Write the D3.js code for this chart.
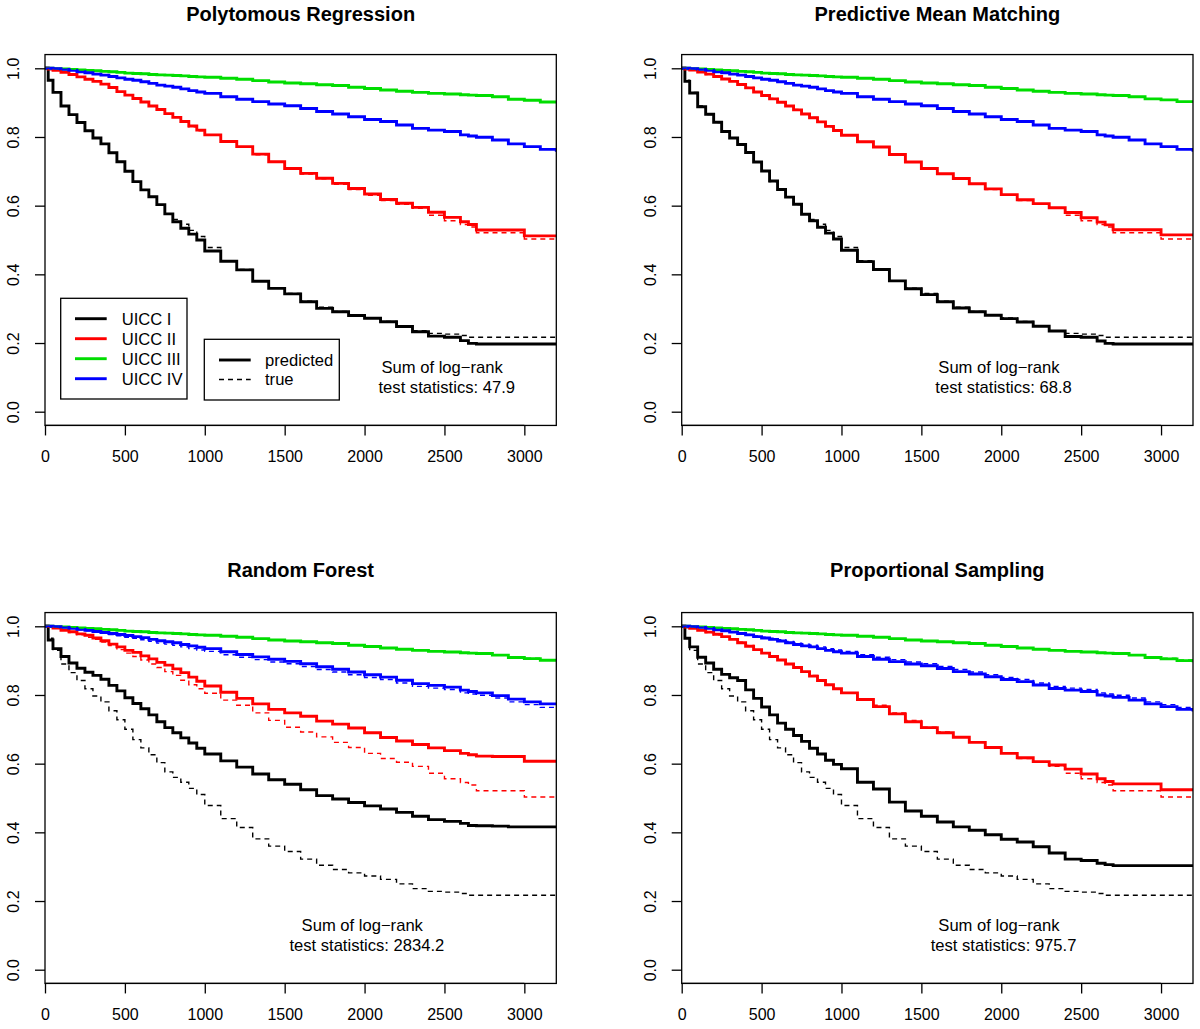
<!DOCTYPE html>
<html><head><meta charset="utf-8">
<script src="https://cdn.jsdelivr.net/npm/d3@7"></script>
<style>
body{margin:0;background:#fff}
svg{display:block}
text{font-family:"Liberation Sans",Arial,Helvetica,sans-serif;fill:#000}
</style></head>
<body><svg id="chart" width="1200" height="1029"></svg>
<script>
// ---- data ----
const days = [0,20,50,100,150,200,250,300,350,400,450,500,550,600,650,700,750,800,850,900,950,1000,1100,1200,1300,1400,1500,1600,1700,1800,1900,2000,2100,2200,2300,2400,2500,2600,2650,2700,2800,2900,3000,3100,3200];

const stages = ["UICC I","UICC II","UICC III","UICC IV"];
const stageColors = ["#000000","#ff0000","#00dd00","#0000ff"];
const panelTitles = ["Polytomous Regression","Predictive Mean Matching","Random Forest","Proportional Sampling"];
const statValues = ["47.9","68.8","2834.2","975.7"];
const statDay = [2500,2000,2000,2000];
const xTicks = [0,500,1000,1500,2000,2500,3000];
const yTicks = [0,0.2,0.4,0.6,0.8,1.0];

// true (observed) survival per stage, dashed in every panel
const trueI   = [1.000,0.965,0.930,0.890,0.865,0.842,0.818,0.797,0.780,0.754,0.728,0.700,0.670,0.646,0.626,0.603,0.576,0.560,0.546,0.528,0.510,0.478,0.440,0.414,0.381,0.360,0.344,0.322,0.304,0.292,0.282,0.273,0.263,0.250,0.236,0.228,0.226,0.222,0.217,0.217,0.217,0.217,0.217,0.217,0.217];
const trueII  = [1.000,0.998,0.994,0.988,0.982,0.975,0.968,0.962,0.954,0.944,0.932,0.922,0.912,0.902,0.890,0.880,0.868,0.857,0.843,0.830,0.818,0.805,0.785,0.770,0.748,0.726,0.706,0.692,0.678,0.662,0.647,0.630,0.615,0.604,0.592,0.572,0.556,0.545,0.538,0.521,0.521,0.521,0.503,0.503,0.503];
const trueIII = [1.000,1.000,0.999,0.998,0.997,0.995,0.994,0.993,0.991,0.990,0.988,0.986,0.985,0.984,0.982,0.981,0.980,0.979,0.978,0.976,0.975,0.974,0.971,0.968,0.964,0.960,0.957,0.955,0.952,0.950,0.945,0.941,0.937,0.933,0.930,0.927,0.925,0.923,0.922,0.921,0.917,0.910,0.907,0.902,0.898];
const trueIV  = [1.000,1.000,0.999,0.997,0.994,0.990,0.987,0.983,0.980,0.976,0.972,0.968,0.965,0.961,0.956,0.951,0.948,0.945,0.940,0.935,0.931,0.927,0.917,0.910,0.903,0.896,0.891,0.883,0.874,0.867,0.859,0.851,0.845,0.835,0.825,0.820,0.816,0.806,0.803,0.799,0.791,0.780,0.772,0.764,0.760];

// predicted survival: Polytomous Regression
const polyI   = [1.000,0.965,0.930,0.890,0.865,0.842,0.818,0.797,0.780,0.754,0.728,0.700,0.670,0.646,0.626,0.603,0.576,0.553,0.534,0.517,0.500,0.468,0.438,0.413,0.380,0.359,0.343,0.320,0.301,0.291,0.280,0.272,0.262,0.248,0.233,0.220,0.217,0.207,0.199,0.197,0.197,0.197,0.197,0.197,0.197];
const polyII  = [1.000,0.998,0.994,0.988,0.982,0.975,0.968,0.962,0.954,0.944,0.932,0.922,0.912,0.902,0.890,0.880,0.868,0.857,0.845,0.832,0.820,0.806,0.787,0.772,0.750,0.728,0.708,0.694,0.680,0.665,0.650,0.634,0.618,0.607,0.595,0.581,0.566,0.553,0.545,0.529,0.529,0.529,0.512,0.512,0.512];
const polyIII = [1.000,1.000,0.999,0.998,0.997,0.995,0.994,0.993,0.991,0.990,0.988,0.986,0.985,0.984,0.982,0.981,0.980,0.979,0.978,0.976,0.975,0.974,0.971,0.968,0.964,0.960,0.957,0.955,0.952,0.950,0.945,0.941,0.937,0.933,0.930,0.927,0.925,0.923,0.922,0.921,0.917,0.910,0.907,0.902,0.898];
const polyIV  = [1.000,1.000,0.999,0.997,0.994,0.990,0.987,0.983,0.980,0.976,0.972,0.968,0.965,0.961,0.956,0.951,0.948,0.945,0.940,0.935,0.931,0.927,0.917,0.910,0.903,0.896,0.891,0.883,0.874,0.867,0.859,0.851,0.845,0.835,0.825,0.820,0.816,0.806,0.803,0.799,0.791,0.780,0.772,0.764,0.757];

// predicted survival: Predictive Mean Matching
const pmmI   = [1.000,0.962,0.928,0.888,0.866,0.843,0.816,0.797,0.778,0.755,0.727,0.701,0.672,0.647,0.625,0.604,0.575,0.556,0.537,0.520,0.503,0.470,0.437,0.414,0.381,0.358,0.341,0.320,0.302,0.291,0.281,0.271,0.261,0.249,0.235,0.219,0.217,0.206,0.199,0.197,0.197,0.197,0.197,0.197,0.197];
const pmmII  = [1.000,0.998,0.995,0.989,0.983,0.976,0.969,0.962,0.953,0.943,0.931,0.921,0.911,0.901,0.890,0.879,0.867,0.856,0.844,0.831,0.819,0.805,0.786,0.771,0.749,0.727,0.708,0.693,0.679,0.664,0.649,0.632,0.617,0.606,0.594,0.580,0.565,0.552,0.544,0.530,0.530,0.530,0.515,0.515,0.515];
const pmmIII = [1.000,1.000,0.999,0.998,0.997,0.995,0.994,0.993,0.991,0.990,0.988,0.986,0.985,0.984,0.982,0.981,0.980,0.979,0.978,0.976,0.975,0.974,0.971,0.968,0.964,0.960,0.957,0.955,0.952,0.950,0.945,0.941,0.937,0.933,0.930,0.927,0.925,0.923,0.922,0.921,0.917,0.911,0.908,0.903,0.899];
const pmmIV  = [1.000,1.000,0.999,0.997,0.994,0.990,0.987,0.983,0.980,0.976,0.972,0.968,0.965,0.961,0.956,0.951,0.948,0.945,0.940,0.935,0.931,0.927,0.917,0.910,0.903,0.896,0.891,0.883,0.874,0.867,0.859,0.851,0.845,0.835,0.825,0.820,0.816,0.806,0.803,0.799,0.791,0.780,0.772,0.764,0.757];

// predicted survival: Random Forest
const rfI   = [1.000,0.960,0.935,0.912,0.893,0.878,0.866,0.857,0.846,0.828,0.812,0.792,0.775,0.760,0.742,0.722,0.705,0.690,0.675,0.660,0.645,0.628,0.608,0.590,0.570,0.553,0.540,0.524,0.507,0.497,0.487,0.477,0.468,0.458,0.447,0.437,0.432,0.426,0.420,0.419,0.418,0.416,0.416,0.416,0.416];
const rfII  = [1.000,0.999,0.995,0.988,0.984,0.978,0.974,0.966,0.958,0.948,0.940,0.930,0.924,0.914,0.905,0.895,0.887,0.876,0.865,0.852,0.840,0.826,0.808,0.790,0.774,0.758,0.748,0.738,0.724,0.715,0.704,0.690,0.676,0.666,0.656,0.646,0.638,0.630,0.626,0.622,0.621,0.621,0.607,0.607,0.607];
const rfIII = [1.000,1.000,0.999,0.998,0.997,0.995,0.994,0.993,0.991,0.990,0.988,0.986,0.985,0.984,0.982,0.981,0.980,0.979,0.978,0.976,0.975,0.974,0.971,0.968,0.964,0.960,0.957,0.955,0.952,0.950,0.945,0.941,0.937,0.933,0.930,0.927,0.925,0.923,0.922,0.921,0.916,0.909,0.906,0.901,0.897];
const rfIV  = [1.000,1.000,0.999,0.997,0.994,0.991,0.988,0.985,0.982,0.979,0.976,0.973,0.970,0.967,0.962,0.958,0.955,0.952,0.947,0.943,0.939,0.935,0.926,0.918,0.911,0.904,0.898,0.891,0.882,0.875,0.867,0.859,0.852,0.843,0.833,0.828,0.823,0.814,0.810,0.806,0.798,0.788,0.780,0.774,0.770];

// predicted survival: Proportional Sampling
const psI   = [1.000,0.965,0.940,0.910,0.893,0.875,0.860,0.850,0.842,0.815,0.790,0.765,0.742,0.718,0.700,0.682,0.665,0.645,0.628,0.610,0.598,0.585,0.546,0.526,0.488,0.462,0.447,0.430,0.416,0.406,0.393,0.380,0.372,0.358,0.340,0.322,0.318,0.310,0.306,0.303,0.303,0.303,0.303,0.303,0.303];
const psII  = [1.000,0.998,0.994,0.988,0.983,0.977,0.970,0.962,0.952,0.942,0.932,0.922,0.912,0.902,0.890,0.880,0.868,0.855,0.842,0.830,0.818,0.806,0.787,0.766,0.745,0.722,0.705,0.690,0.677,0.662,0.647,0.630,0.617,0.606,0.596,0.584,0.570,0.556,0.548,0.541,0.541,0.541,0.524,0.524,0.524];
const psIII = [1.000,1.000,0.999,0.998,0.997,0.995,0.994,0.993,0.991,0.990,0.988,0.986,0.985,0.984,0.982,0.981,0.980,0.979,0.978,0.976,0.975,0.974,0.971,0.968,0.964,0.960,0.957,0.955,0.952,0.950,0.945,0.941,0.937,0.933,0.930,0.927,0.925,0.923,0.922,0.921,0.916,0.909,0.905,0.900,0.895];
const psIV  = [1.000,1.000,0.999,0.997,0.994,0.990,0.987,0.983,0.979,0.975,0.970,0.966,0.962,0.957,0.952,0.947,0.943,0.940,0.935,0.930,0.926,0.922,0.912,0.904,0.897,0.890,0.885,0.877,0.868,0.861,0.853,0.845,0.839,0.829,0.819,0.814,0.810,0.800,0.797,0.793,0.785,0.774,0.766,0.758,0.752];

// ---- assembly ----
const trueCurves = [trueI,trueII,trueIII,trueIV];
const predCurves = [
  [polyI,polyII,polyIII,polyIV],
  [pmmI,pmmII,pmmIII,pmmIV],
  [rfI,rfII,rfIII,rfIV],
  [psI,psII,psIII,psIV]
];

const svg = d3.select("#chart");
const boxes = [
  {x0:45,    x1:556.3, y1:68.3,  y0:411.7, tOff:34},
  {x0:681.7, x1:1193,  y1:68.3,  y0:411.7, tOff:34},
  {x0:45,    x1:556.3, y1:626.3, y0:969.7, tOff:35.5},
  {x0:681.7, x1:1193,  y1:626.3, y0:969.7, tOff:35.5}
];
const FONT = '"Liberation Sans",Arial,sans-serif';

boxes.forEach((b, p) => {
  const x = d3.scaleLinear().domain([0,3200]).range([b.x0, b.x1]);
  const y = d3.scaleLinear().domain([0,1]).range([b.y0, b.y1]);
  const g = svg.append("g");
  const top = y(1.04), bot = y(-0.04);

  const clipId = "clip" + p;
  svg.append("clipPath").attr("id", clipId).append("rect")
    .attr("x", b.x0).attr("y", top).attr("width", b.x1 - b.x0).attr("height", bot - top);

  const line = d3.line().x((d,i) => x(days[i])).y(d => y(d)).curve(d3.curveStepAfter);
  const lines = g.append("g").attr("clip-path", `url(#${clipId})`);

  predCurves[p].forEach((vals, k) => {
    lines.append("path").attr("d", line(vals))
      .attr("fill","none").attr("stroke", stageColors[k]).attr("stroke-width", 2.9)
      .attr("stroke-linejoin","miter");
  });
  trueCurves.forEach((vals, k) => {
    lines.append("path").attr("d", line(vals))
      .attr("fill","none").attr("stroke", stageColors[k]).attr("stroke-width", 1.4)
      .attr("stroke-dasharray","5,4");
  });

  // box
  g.append("rect").attr("x", b.x0).attr("y", top).attr("width", b.x1 - b.x0).attr("height", bot - top)
    .attr("fill","none").attr("stroke","#000").attr("stroke-width",1.3);

  // x axis
  const xa = g.append("g").attr("transform", `translate(0,${bot})`)
    .call(d3.axisBottom(x).tickValues(xTicks).tickSize(10).tickSizeOuter(0).tickFormat(d3.format("d")));
  xa.select(".domain").remove();
  xa.selectAll(".tick line").attr("stroke","#000").attr("stroke-width",1.3);
  xa.selectAll(".tick text").attr("y", 37).attr("dy", 0).attr("font-size", 16)
    .attr("font-family", FONT).attr("fill","#000");
  xa.append("line").attr("x1", x(0)).attr("x2", x(3000)).attr("stroke","#000").attr("stroke-width",1.3);

  // y axis
  const ya = g.append("g").attr("transform", `translate(${b.x0},0)`)
    .call(d3.axisLeft(y).tickValues(yTicks).tickSize(10).tickSizeOuter(0).tickFormat(d3.format(".1f")));
  ya.select(".domain").remove();
  ya.selectAll(".tick line").attr("stroke","#000").attr("stroke-width",1.3);
  ya.selectAll(".tick text").attr("x", null).attr("dy", 0)
    .attr("transform","translate(-25.7,0) rotate(-90)")
    .attr("text-anchor","middle").attr("font-size", 16)
    .attr("font-family", FONT).attr("fill","#000");

  // title
  g.append("text").attr("x", (b.x0 + b.x1)/2).attr("y", top - b.tOff)
    .attr("text-anchor","middle").attr("font-size", 20).attr("font-weight","bold")
    .text(panelTitles[p]);

  // annotation
  const ax = x(statDay[p]), ay = y(0.1);
  g.append("text").attr("x", ax - 2.3).attr("y", ay - 4).attr("text-anchor","middle")
    .attr("font-size",16.6).text("Sum of log\u2212rank");
  g.append("text").attr("x", ax + 2.3).attr("y", ay + 16).attr("text-anchor","middle")
    .attr("font-size",16.6).text("test statistics: " + statValues[p]);

  // legends in first panel
  if (p === 0) {
    const L = g.append("g");
    L.append("rect").attr("x", 60.7).attr("y", 298.3).attr("width", 126.3).attr("height", 100.7)
      .attr("fill","#fff").attr("stroke","#000").attr("stroke-width",1.3);
    stages.forEach((s, k) => {
      const yy = 318.7 + k * 20;
      L.append("line").attr("x1", 75).attr("x2", 106.7).attr("y1", yy).attr("y2", yy)
        .attr("stroke", stageColors[k]).attr("stroke-width", 2.9);
      L.append("text").attr("x", 121.7).attr("y", yy + 5.9).attr("font-size",16.6).text(s);
    });
    const L2 = g.append("g");
    L2.append("rect").attr("x", 204.3).attr("y", 339.3).attr("width", 135).attr("height", 60.7)
      .attr("fill","#fff").attr("stroke","#000").attr("stroke-width",1.3);
    [["predicted",2.9,null],["true",1.4,"5,4"]].forEach((d, k) => {
      const yy = 360 + k * 19.5;
      L2.append("line").attr("x1", 219).attr("x2", 250.7).attr("y1", yy).attr("y2", yy)
        .attr("stroke","#000").attr("stroke-width", d[1]).attr("stroke-dasharray", d[2]);
      L2.append("text").attr("x", 265).attr("y", yy + 5.9).attr("font-size",16.6).text(d[0]);
    });
  }
});
</script></body></html>
